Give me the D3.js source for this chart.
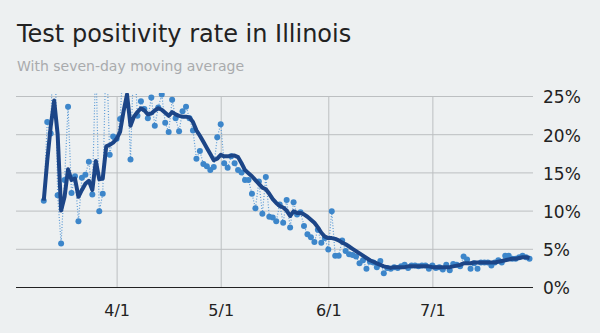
<!DOCTYPE html>
<html>
<head>
<meta charset="utf-8">
<script src="https://cdn.jsdelivr.net/npm/d3@7"></script>
<style>
  html, body { margin: 0; padding: 0; background: #edf0f1; }
  svg { display: block; font-family: "DejaVu Sans", Verdana, sans-serif; }
</style>
</head>
<body>
<div id="chart"></div>
<script>
// first day of the series, one value per day after it
const START_DATE = "2020-03-11";

// daily test positivity (%), values above 25 are cut off by the chart
const dailyRate = [
  11.3, 21.6, 20.1, 38, 12.0, 5.7, 14.0, 23.6, 12.3, 14.5,
  8.6, 14.3, 14.7, 16.4, 12.1, 30, 9.9, 12.2, 32, 17.3,
  19.7, 19.4, 22.0, 30, 28, 16.7, 31, 22.4, 24.3, 23.3,
  22.1, 24.8, 21.1, 23.5, 25.2, 21.5, 20.3, 24.5, 22.1, 20.4,
  23.0, 23.6, 22.1, 20.5, 16.8, 17.8, 16.1, 15.8, 15.3, 15.7,
  19.6, 21.3, 16.2, 15.6, 17.1, 16.2, 15.3, 15.0, 14.0, 14.0,
  12.2, 10.3, 13.8, 9.6, 14.4, 9.2, 9.1, 8.6, 10.8, 8.4,
  11.4, 7.8, 11.1, 9.5, 9.8, 8.0, 6.9, 6.5, 5.9, 7.5,
  5.8, 6.4, 4.9, 9.9, 4.1, 4.1, 6.1, 4.7, 4.3, 4.2,
  4.0, 3.1, 3.5, 2.4, 3.3, 3.2, 2.6, 3.4, 1.8, 2.5,
  2.4, 2.6, 2.5, 2.7, 2.9, 2.5, 2.8, 2.8, 2.7, 2.8,
  2.8, 2.4, 2.8, 2.5, 2.6, 2.3, 2.9, 2.2, 3.0, 2.9,
  2.7, 4.0, 3.6, 2.4, 3.1, 2.4, 3.2, 3.2, 3.2, 2.8,
  3.2, 3.5, 3.2, 4.1, 4.1, 3.7, 3.7, 3.9, 4.1, 3.9,
  3.7
];

// seven-day moving average (%)
const avgRate = [
  11.3, 16.5, 21.0, 24.4, 20.0, 10.0, 11.8, 15.4, 14.0, 14.2,
  11.8, 12.7, 13.5, 13.9, 12.7, 16.5, 14.1, 14.2, 18.4, 18.6,
  18.9, 19.4, 20.3, 23.0, 25.2, 21.1, 22.3, 22.9, 23.4, 23.1,
  22.6, 22.7, 23.1, 23.4, 23.2, 22.8, 22.4, 22.9, 22.6, 22.4,
  22.3, 22.3, 22.2, 21.6, 20.5, 19.8, 19.0, 18.2, 17.4, 16.6,
  16.8, 17.3, 17.1, 17.1, 17.2, 17.2, 17.0, 16.2, 15.3, 14.9,
  14.5, 14.0, 13.5, 13.0, 12.8, 12.2, 11.5, 11.0, 10.6, 10.4,
  10.0, 9.3, 9.9, 9.7, 9.7, 9.5, 9.2, 8.8, 8.4, 7.8,
  7.1, 6.6, 6.4, 6.4, 6.3, 6.1, 5.8, 5.6, 5.3, 5.0,
  4.7, 4.4, 4.1, 3.8, 3.5, 3.3, 3.1, 2.9, 2.7, 2.6,
  2.5, 2.6, 2.6, 2.6, 2.6, 2.7, 2.7, 2.7, 2.7, 2.7,
  2.7, 2.7, 2.6, 2.6, 2.6, 2.6, 2.6, 2.6, 2.7, 2.8,
  2.9, 3.1, 3.1, 3.1, 3.2, 3.2, 3.2, 3.2, 3.2, 3.2,
  3.2, 3.3, 3.4, 3.5, 3.6, 3.7, 3.7, 3.8, 3.9, 3.9,
  3.8
];

const xDomain = ["2020-03-03", "2020-07-30"];
const xTickDates = ["2020-04-01", "2020-05-01", "2020-06-01", "2020-07-01"];
const xTickLabels = ["4/1", "5/1", "6/1", "7/1"];
const yTicks = [0, 5, 10, 15, 20, 25];

const MARGIN = { LEFT: 16, RIGHT: 67, TOP: 96, BOTTOM: 46 };
const WIDTH = 600 - MARGIN.LEFT - MARGIN.RIGHT;
const HEIGHT = 333 - MARGIN.TOP - MARGIN.BOTTOM;

const parse = d3.utcParse("%Y-%m-%d");
const start = parse(START_DATE);

const data = dailyRate.map((v, i) => ({
  date: d3.utcDay.offset(start, i),
  daily: v,
  avg: avgRate[i],
}));

const svg = d3
  .select("#chart")
  .append("svg")
  .attr("width", 600)
  .attr("height", 333);

svg.append("rect").attr("width", 600).attr("height", 333).attr("fill", "#edf0f1");

// title + subtitle
svg.append("text")
  .attr("x", 17)
  .attr("y", 42)
  .attr("font-size", "24px")
  .attr("fill", "#222")
  .text("Test positivity rate in Illinois");

svg.append("text")
  .attr("x", 17)
  .attr("y", 71)
  .attr("font-size", "14px")
  .attr("fill", "#a9abad")
  .text("With seven-day moving average");

const g = svg
  .append("g")
  .attr("transform", `translate(${MARGIN.LEFT}, ${MARGIN.TOP})`);

const x = d3.scaleUtc().domain(xDomain.map(parse)).range([0, WIDTH]);
const y = d3.scaleLinear().domain([0, 25]).range([HEIGHT, 0]);

// y axis on the right, ticks stretched into gridlines
const yAxisGroup = g
  .append("g")
  .attr("class", "y axis")
  .attr("transform", `translate(${WIDTH}, 0)`)
  .call(
    d3.axisRight(y)
      .tickValues(yTicks)
      .tickSize(-WIDTH)
      .tickPadding(10)
      .tickFormat((d) => d + "%")
  );
yAxisGroup.select(".domain").remove();
yAxisGroup.selectAll(".tick line")
  .attr("stroke", (d) => (d === 0 ? "#222" : "#bcbfc1"))
  .attr("stroke-width", 1);
yAxisGroup.selectAll(".tick text")
  .attr("font-size", "17px")
  .attr("font-family", "DejaVu Sans, Verdana, sans-serif")
  .attr("fill", "#222")
  .attr("dy", "0.4em");

// x axis, vertical gridlines at the month starts
const xAxisGroup = g
  .append("g")
  .attr("class", "x axis")
  .attr("transform", `translate(0, ${HEIGHT})`)
  .call(
    d3.axisBottom(x)
      .tickValues(xTickDates.map(parse))
      .tickSize(-HEIGHT)
      .tickPadding(18)
      .tickFormat((d, i) => xTickLabels[i])
  );
xAxisGroup.select(".domain").remove();
xAxisGroup.selectAll(".tick line").attr("stroke", "#bcbfc1");
xAxisGroup.selectAll(".tick text")
  .attr("font-size", "16px")
  .attr("font-family", "DejaVu Sans, Verdana, sans-serif")
  .attr("fill", "#222");

// redraw the zero line on top of the vertical gridlines
g.append("line")
  .attr("x1", 0)
  .attr("x2", WIDTH)
  .attr("y1", y(0) + 0.5)
  .attr("y2", y(0) + 0.5)
  .attr("stroke", "#222");

g.append("clipPath")
  .attr("id", "plot-clip")
  .append("rect")
  .attr("x", -5)
  .attr("y", -3)
  .attr("width", WIDTH + 10)
  .attr("height", HEIGHT + 3);

const plot = g.append("g").attr("clip-path", "url(#plot-clip)");

// daily values: dotted connector + dots
const dailyLine = d3.line()
  .x((d) => x(d.date))
  .y((d) => y(d.daily));

plot.append("path")
  .datum(data)
  .attr("d", dailyLine)
  .attr("fill", "none")
  .attr("stroke", "#5d9bd6")
  .attr("stroke-width", 1.2)
  .attr("stroke-dasharray", "1,1.8");

plot.selectAll("circle")
  .data(data)
  .enter()
  .append("circle")
  .attr("cx", (d) => x(d.date))
  .attr("cy", (d) => y(d.daily))
  .attr("r", 3)
  .attr("fill", "#3d86ca");

// moving average on top
const avgLine = d3.line()
  .x((d) => x(d.date))
  .y((d) => y(d.avg));

plot.append("path")
  .datum(data)
  .attr("d", avgLine)
  .attr("fill", "none")
  .attr("stroke", "#1c4587")
  .attr("stroke-width", 4)
  .attr("stroke-linejoin", "round");
</script>
</body>
</html>
